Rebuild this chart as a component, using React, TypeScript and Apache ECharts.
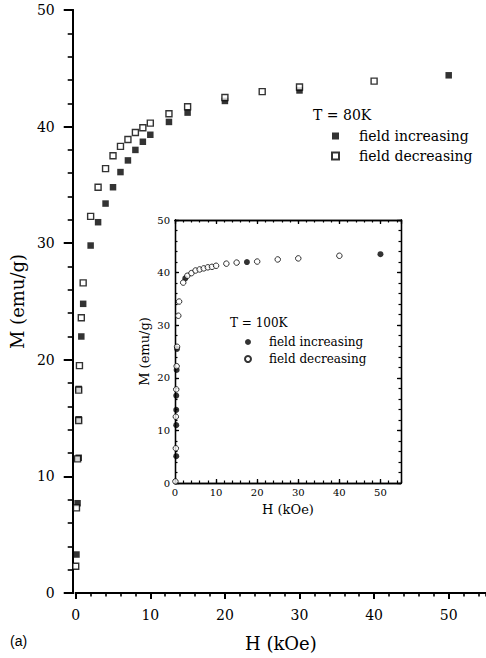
import React, { useEffect, useRef } from "react";
import * as echarts from "echarts";

// Main plot, T = 80K : [H (kOe), M (emu/g)]
const mainIncreasing: number[][] = [
  [0.1, 3.3], [0.25, 7.7], [0.4, 11.6], [0.4, 14.9], [0.4, 17.5], [0.75, 22.0],
  [1, 24.8], [2, 29.8], [3, 31.8], [4, 33.4], [5, 34.8], [6, 36.1], [7, 37.1],
  [8, 38.0], [9, 38.7], [10, 39.3], [12.5, 40.4], [15, 41.2], [20, 42.2],
  [30, 43.1], [50, 44.4],
];
const mainDecreasing: number[][] = [
  [0, 2.3], [0.1, 7.3], [0.25, 11.5], [0.4, 14.8], [0.4, 17.4], [0.5, 19.5],
  [0.75, 23.6], [1, 26.6], [2, 32.3], [3, 34.8], [4, 36.4], [5, 37.5], [6, 38.3],
  [7, 38.9], [8, 39.5], [9, 39.9], [10, 40.3], [12.5, 41.1], [15, 41.7],
  [20, 42.5], [25, 43.0], [30, 43.4], [40, 43.9],
];

// Inset, T = 100K
const insetIncreasing: number[][] = [
  [0.3, 5.1], [0.3, 11.0], [0.3, 13.9], [0.3, 16.6], [0.4, 21.5], [0.5, 25.5],
  [2.5, 38.9], [17.5, 42.0], [50, 43.5],
];
const insetDecreasing: number[][] = [
  [0.1, 0.3], [0.2, 6.6], [0.2, 12.6], [0.3, 17.8], [0.4, 22.2], [0.5, 25.9],
  [0.8, 31.8], [1, 34.5], [2, 38.1], [3, 39.4], [4, 39.9], [5, 40.4], [6, 40.6],
  [7, 40.8], [8, 41.0], [9, 41.1], [10, 41.3], [12.5, 41.7], [15, 41.9],
  [20, 42.1], [25, 42.5], [30, 42.7], [40, 43.2],
];

const legendMain = ["field increasing", "field decreasing"];
const legendInset = ["field increasing ", "field decreasing "];

const H_MAX = 55;
const M_MAX = 50;
const MAJOR = 10;
const MINOR = 2;

const SERIF = "DejaVu Serif";

export default function App() {
  const ref = useRef<HTMLDivElement>(null);
  useEffect(() => {
    if (!ref.current) return;
    const chart = echarts.init(ref.current, undefined, { renderer: "svg" });

    const black = { color: "#000" };
    const hiddenLabel = { show: false };

    const mkAxis = (o: any) => ({
      type: "value",
      min: 0,
      splitLine: { show: false },
      ...o,
    });

    const mainLine = { show: true, onZero: false, lineStyle: { ...black, width: 2 } };
    const insetLine = { show: true, onZero: false, lineStyle: { ...black, width: 1.3 } };
    const insetMajorTick = { show: true, inside: true, length: 4, lineStyle: { ...black, width: 1.3 } };
    const insetMinorTick = { show: true, inside: true, length: 2.5, lineStyle: { ...black, width: 1.2 } };

    const option: any = {
      animation: false,
      backgroundColor: "#fff",
      textStyle: { fontFamily: SERIF },
      grid: [
        { left: 73, top: 10, width: 415, height: 583 },
        { left: 175, top: 220, width: 226, height: 263 },
      ],
      xAxis: [
        mkAxis({
          gridIndex: 0,
          position: "bottom",
          max: H_MAX,
          interval: MAJOR,
          name: "H (kOe)",
          nameLocation: "middle",
          nameGap: 41,
          nameTextStyle: { fontFamily: SERIF, fontSize: 18, color: "#000" },
          axisLine: mainLine,
          axisTick: { show: true, length: 6, lineStyle: { ...black, width: 2 } },
          axisLabel: { fontFamily: SERIF, fontSize: 14, color: "#000", margin: 15, showMaxLabel: false },
        }),
        mkAxis({
          gridIndex: 0,
          position: "bottom",
          max: H_MAX,
          interval: MINOR,
          axisLine: mainLine,
          axisTick: { show: true, length: 3.5, lineStyle: { ...black, width: 1.6 } },
          axisLabel: hiddenLabel,
        }),
        mkAxis({
          gridIndex: 1,
          position: "bottom",
          max: H_MAX,
          interval: MAJOR,
          name: "H (kOe)",
          nameLocation: "middle",
          nameGap: 20,
          nameTextStyle: { fontFamily: SERIF, fontSize: 13, color: "#000" },
          axisLine: insetLine,
          axisTick: insetMajorTick,
          axisLabel: { fontFamily: SERIF, fontSize: 10, color: "#000", margin: 4, showMaxLabel: false },
        }),
        mkAxis({
          gridIndex: 1,
          position: "bottom",
          max: H_MAX,
          interval: MINOR,
          axisLine: insetLine,
          axisTick: insetMinorTick,
          axisLabel: hiddenLabel,
        }),
        mkAxis({
          gridIndex: 1,
          position: "top",
          max: H_MAX,
          interval: MAJOR,
          axisLine: insetLine,
          axisTick: insetMajorTick,
          axisLabel: hiddenLabel,
        }),
        mkAxis({
          gridIndex: 1,
          position: "top",
          max: H_MAX,
          interval: MINOR,
          axisLine: insetLine,
          axisTick: insetMinorTick,
          axisLabel: hiddenLabel,
        }),
      ],
      yAxis: [
        mkAxis({
          gridIndex: 0,
          position: "left",
          max: M_MAX,
          interval: MAJOR,
          offset: 3,
          name: "M (emu/g)",
          nameLocation: "middle",
          nameGap: 43,
          nameTextStyle: { fontFamily: SERIF, fontSize: 18, color: "#000" },
          axisLine: mainLine,
          axisTick: { show: true, length: 9, lineStyle: { ...black, width: 2 } },
          axisLabel: { fontFamily: SERIF, fontSize: 14, color: "#000", margin: 18 },
        }),
        mkAxis({
          gridIndex: 0,
          position: "left",
          max: M_MAX,
          interval: MINOR,
          offset: 3,
          axisLine: mainLine,
          axisTick: { show: true, length: 5, lineStyle: { ...black, width: 1.6 } },
          axisLabel: hiddenLabel,
        }),
        mkAxis({
          gridIndex: 1,
          position: "left",
          max: M_MAX,
          interval: MAJOR,
          name: "M (emu/g)",
          nameLocation: "middle",
          nameGap: 24,
          nameTextStyle: { fontFamily: SERIF, fontSize: 13, color: "#000" },
          axisLine: insetLine,
          axisTick: insetMajorTick,
          axisLabel: { fontFamily: SERIF, fontSize: 10, color: "#000", margin: 5 },
        }),
        mkAxis({
          gridIndex: 1,
          position: "left",
          max: M_MAX,
          interval: MINOR,
          axisLine: insetLine,
          axisTick: insetMinorTick,
          axisLabel: hiddenLabel,
        }),
        mkAxis({
          gridIndex: 1,
          position: "right",
          max: M_MAX,
          interval: MAJOR,
          axisLine: insetLine,
          axisTick: insetMajorTick,
          axisLabel: hiddenLabel,
        }),
        mkAxis({
          gridIndex: 1,
          position: "right",
          max: M_MAX,
          interval: MINOR,
          axisLine: insetLine,
          axisTick: insetMinorTick,
          axisLabel: hiddenLabel,
        }),
      ],
      legend: [
        {
          data: legendMain,
          orient: "vertical",
          left: 331,
          top: 129,
          padding: 0,
          itemWidth: 7,
          itemHeight: 7,
          itemGap: 6,
          selectedMode: false,
          textStyle: { fontFamily: SERIF, fontSize: 14, color: "#000", padding: [0, 0, 0, 15] },
        },
        {
          data: legendInset,
          orient: "vertical",
          left: 244,
          top: 336,
          padding: 0,
          itemWidth: 6,
          itemHeight: 6,
          itemGap: 5,
          selectedMode: false,
          textStyle: { fontFamily: SERIF, fontSize: 12, color: "#000", padding: [0, 0, 0, 13] },
        },
      ],
      series: [
        {
          name: legendMain[0],
          type: "scatter",
          xAxisIndex: 0,
          yAxisIndex: 0,
          symbol: "rect",
          symbolSize: 6.5,
          itemStyle: { color: "#000" },
          data: mainIncreasing,
        },
        {
          name: legendMain[1],
          type: "scatter",
          xAxisIndex: 0,
          yAxisIndex: 0,
          symbol: "rect",
          symbolSize: 6,
          itemStyle: { color: "#fff", borderColor: "#000", borderWidth: 1.4 },
          data: mainDecreasing,
        },
        {
          name: legendInset[0],
          type: "scatter",
          xAxisIndex: 2,
          yAxisIndex: 2,
          symbol: "circle",
          symbolSize: 6,
          itemStyle: { color: "#000" },
          data: insetIncreasing,
        },
        {
          name: legendInset[1],
          type: "scatter",
          xAxisIndex: 2,
          yAxisIndex: 2,
          symbol: "circle",
          symbolSize: 5.5,
          itemStyle: { color: "#fff", borderColor: "#000", borderWidth: 1 },
          data: insetDecreasing,
        },
      ],
      graphic: [
        {
          type: "line",
          shape: { x1: 69, y1: 593, x2: 74, y2: 593 },
          style: { stroke: "#000", lineWidth: 2 },
        },
        {
          type: "text",
          left: 313,
          top: 108,
          style: { text: "T = 80K", fontFamily: SERIF, fontSize: 14, fill: "#000" },
        },
        {
          type: "text",
          left: 230,
          top: 317,
          style: { text: "T = 100K", fontFamily: SERIF, fontSize: 12, fill: "#000" },
        },
        {
          type: "text",
          left: 10,
          top: 634,
          style: { text: "(a)", fontFamily: "Liberation Sans", fontSize: 14, fill: "#000" },
        },
      ],
    };
    chart.setOption(option);
    return () => chart.dispose();
  }, []);

  return (
    <div
      ref={ref}
      style={{ position: "fixed", left: 0, top: 0, width: 486, height: 658, background: "#fff" }}
    />
  );
}
